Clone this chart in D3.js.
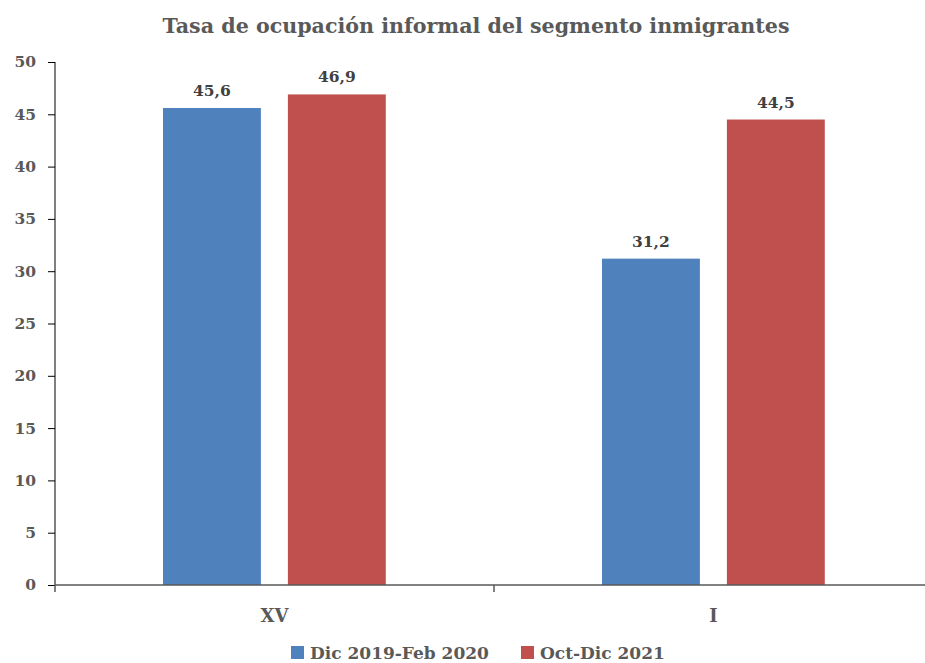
<!DOCTYPE html>
<html><head><meta charset="utf-8">
<script src="https://cdn.jsdelivr.net/npm/d3@7"></script>
<style>body{margin:0;background:#fff}svg{display:block}text{font-family:"DejaVu Serif",serif;font-weight:bold}</style>
</head><body><svg id="c" width="925" height="663"></svg>
<script>
const categories = ["XV", "I"];
const seriesNames = ["Dic 2019-Feb 2020", "Oct-Dic 2021"];
const series1 = [45.6, 31.2];
const series2 = [46.9, 44.5];
const yTicks = [0,5,10,15,20,25,30,35,40,45,50];
const colors = ["#4f81bd", "#c0504d"];

const svg = d3.select("#c");
const x = d3.scaleBand().domain(categories).range([55, 933]);
const y = d3.scaleLinear().domain([0, 50]).range([585, 62]);
const fmt = v => String(v).replace(".", ",");
const vals = [series1, series2];

svg.append("text").attr("x", 476).attr("y", 33).attr("text-anchor", "middle")
  .attr("fill", "#595959").style("font-size", "20.6px").text("Tasa de ocupación informal del segmento inmigrantes");

const bw = x.bandwidth();
const offs = [0.246, 0.5305];
const wfrac = 0.223;
vals.forEach((vs, si) => {
  categories.forEach((c, ci) => {
    const bx = x(c) + offs[si] * bw;
    svg.append("rect").attr("x", bx).attr("y", y(vs[ci])).attr("width", wfrac * bw)
      .attr("height", y(0) - y(vs[ci])).attr("fill", colors[si]);
    svg.append("text").attr("x", bx + wfrac * bw / 2).attr("y", y(vs[ci]) - 12)
      .attr("text-anchor", "middle").attr("fill", "#404040").style("font-size", "15.5px").text(fmt(vs[ci]));
  });
});

const ya = svg.append("g").attr("transform", "translate(55,0)")
  .call(d3.axisLeft(y).tickValues(yTicks).tickSize(7).tickPadding(12));
ya.select(".domain").attr("stroke", "#000").attr("d", "M0,62V585");
ya.selectAll(".tick line").attr("stroke", "#000");
ya.selectAll("text").attr("fill", "#595959").style("font-size", "15.5px").style("font-family", "DejaVu Serif").style("font-weight", "bold");

const xa = svg.append("g").attr("transform", "translate(0,585)")
  .call(d3.axisBottom(x).tickSize(0).tickPadding(24));
xa.select(".domain").attr("stroke", "#595959").attr("stroke-width", 1.5).attr("d", "M55,0H933");
xa.selectAll("text").attr("fill", "#595959").style("font-size", "18px").style("font-family", "DejaVu Serif").style("font-weight", "bold");
[55, 55 + bw].forEach(t => xa.append("line").attr("x1", t).attr("x2", t).attr("y1", 0).attr("y2", 7).attr("stroke", "#595959").attr("stroke-width", 1.5));

const legX = [291, 521];
seriesNames.forEach((n, i) => {
  svg.append("rect").attr("x", legX[i]).attr("y", 646).attr("width", 13).attr("height", 13).attr("fill", colors[i]);
  svg.append("text").attr("x", legX[i] + 19).attr("y", 659).attr("fill", "#595959").style("font-size", "17px").text(n);
});
</script></body></html>
